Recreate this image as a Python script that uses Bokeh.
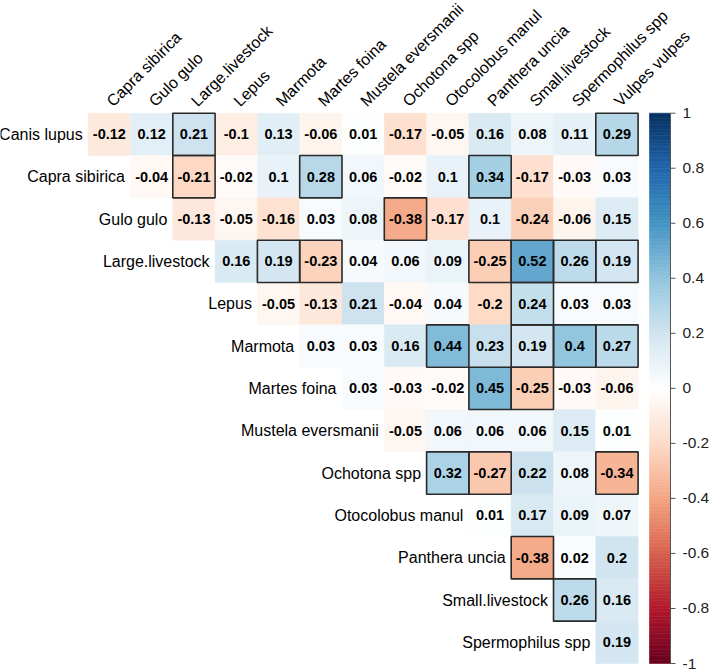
import numpy as np
from bokeh.plotting import figure
from bokeh.models import Range1d, ColumnDataSource
from bokeh.core.properties import value
from bokeh.embed import file_html
from bokeh.resources import INLINE

# ---------------- data ----------------
species = ["Canis lupus", "Capra sibirica", "Gulo gulo", "Large.livestock", "Lepus",
           "Marmota", "Martes foina", "Mustela eversmanii", "Ochotona spp",
           "Otocolobus manul", "Panthera uncia", "Small.livestock",
           "Spermophilus spp", "Vulpes vulpes"]
row_labels = species[:-1]
col_labels = species[1:]

r_canis = [-0.12, 0.12, 0.21, -0.1, 0.13, -0.06, 0.01, -0.17, -0.05, 0.16, 0.08, 0.11, 0.29]
r_capra = [-0.04, -0.21, -0.02, 0.1, 0.28, 0.06, -0.02, 0.1, 0.34, -0.17, -0.03, 0.03]
r_gulo = [-0.13, -0.05, -0.16, 0.03, 0.08, -0.38, -0.17, 0.1, -0.24, -0.06, 0.15]
r_large = [0.16, 0.19, -0.23, 0.04, 0.06, 0.09, -0.25, 0.52, 0.26, 0.19]
r_lepus = [-0.05, -0.13, 0.21, -0.04, 0.04, -0.2, 0.24, 0.03, 0.03]
r_marmota = [0.03, 0.03, 0.16, 0.44, 0.23, 0.19, 0.4, 0.27]
r_martes = [0.03, -0.03, -0.02, 0.45, -0.25, -0.03, -0.06]
r_mustela = [-0.05, 0.06, 0.06, 0.06, 0.15, 0.01]
r_ochotona = [0.32, -0.27, 0.22, 0.08, -0.34]
r_otocolobus = [0.01, 0.17, 0.09, 0.07]
r_panthera = [-0.38, 0.02, 0.2]
r_small = [0.26, 0.16]
r_spermophilus = [0.19]

s_canis = [0, 0, 1, 0, 0, 0, 0, 0, 0, 0, 0, 0, 1]
s_capra = [0, 1, 0, 0, 1, 0, 0, 0, 1, 0, 0, 0]
s_gulo = [0, 0, 0, 0, 0, 1, 0, 0, 0, 0, 0]
s_large = [0, 1, 1, 0, 0, 0, 1, 1, 1, 1]
s_lepus = [0, 0, 0, 0, 0, 0, 1, 0, 0]
s_marmota = [0, 0, 0, 1, 0, 1, 1, 1]
s_martes = [0, 0, 0, 1, 1, 0, 0]
s_mustela = [0, 0, 0, 0, 0, 0]
s_ochotona = [1, 1, 0, 0, 1]
s_otocolobus = [0, 0, 0, 0]
s_panthera = [1, 0, 0]
s_small = [1, 0]
s_spermophilus = [0]

r_rows = [r_canis, r_capra, r_gulo, r_large, r_lepus, r_marmota, r_martes, r_mustela,
          r_ochotona, r_otocolobus, r_panthera, r_small, r_spermophilus]
s_rows = [s_canis, s_capra, s_gulo, s_large, s_lepus, s_marmota, s_martes, s_mustela,
          s_ochotona, s_otocolobus, s_panthera, s_small, s_spermophilus]

cb_ticks = [1, 0.8, 0.6, 0.4, 0.2, 0, -0.2, -0.4, -0.6, -0.8, -1]

# corrplot RdBu palette
pal = ["#67001F", "#B2182B", "#D6604D", "#F4A582", "#FDDBC7", "#FFFFFF",
       "#D1E5F0", "#92C5DE", "#4393C3", "#2166AC", "#053061"]
pal_rgb = np.array([[int(h[i:i + 2], 16) for i in (1, 3, 5)] for h in pal], float)
pal_pos = np.linspace(-1, 1, len(pal))


def col(v):
    rgb = [np.interp(v, pal_pos, pal_rgb[:, k]) for k in range(3)]
    return "#%02x%02x%02x" % tuple(int(round(c)) for c in rgb)


def fmt(v):
    s = f"{v:.2f}".rstrip("0").rstrip(".")
    return "0" if s in ("-0", "") else s


# ---------------- geometry ----------------
W, H = 709, 670
left_px, top_px, bottom_px = 87.7, 112.7, 663.0
cw = 42.3
n = len(row_labels)
ch = (bottom_px - top_px) / n
x0 = -left_px / cw
x1 = (W - left_px) / cw
y0 = -(H - bottom_px) / ch
y1 = n + top_px / ch

p = figure(width=W, height=H, x_range=Range1d(x0, x1), y_range=Range1d(y0, y1),
           output_backend="svg", toolbar_location=None, min_border=0,
           x_axis_location=None, y_axis_location=None)
p.grid.visible = False
p.outline_line_color = None
p.background_fill_color = "white"
p.border_fill_color = "white"

xs, ys, cols, txt, sx, sy = [], [], [], [], [], []
for i, (rr, ss) in enumerate(zip(r_rows, s_rows)):
    for k, (v, s) in enumerate(zip(rr, ss)):
        j = i + k
        xs.append(j + 0.5)
        ys.append(n - i - 0.5)
        cols.append(col(v))
        txt.append(fmt(v))
        if s:
            sx.append(j + 0.5)
            sy.append(n - i - 0.5)

src = ColumnDataSource(dict(x=xs, y=ys, c=cols, t=txt))
p.rect(x="x", y="y", width=1, height=1, fill_color="c", line_color="c", line_width=0.5, source=src)
p.rect(x=sx, y=sy, width=1, height=1, fill_alpha=0, line_color="#2a2a2a", line_width=1.6)
p.text(x="x", y="y", text="t", source=src, text_align="center", text_baseline="middle",
       text_font=value("Liberation Sans"), text_font_style="bold", text_font_size="14.5px",
       text_color="black")

# row labels (diagonal)
rl_x = [i - 5.5 / cw for i in range(n)]
rl_y = [n - i - 0.5 for i in range(n)]
p.text(x=rl_x, y=rl_y, text=row_labels, text_align="right", text_baseline="middle",
       text_font=value("Liberation Sans"), text_font_size="16px", text_color="black")

# column labels (rotated, top)
cl_x = [j + 0.5 for j in range(n)]
cl_y = [n + 9.5 / ch for j in range(n)]
p.text(x=cl_x, y=cl_y, text=col_labels, angle=np.pi / 4, text_align="left",
       text_baseline="alphabetic", text_font=value("Liberation Sans"),
       text_font_size="16px", text_color="black")

# colour bar
cb_l = (649 - left_px) / cw
cb_r = (670 - left_px) / cw
nseg = 200
edges = np.linspace(-1, 1, nseg + 1)
mids = (edges[:-1] + edges[1:]) / 2
to_y = lambda v: (np.asarray(v) + 1) / 2 * n
p.quad(left=cb_l, right=cb_r, bottom=to_y(edges[:-1]), top=to_y(edges[1:]),
       fill_color=[col(v) for v in mids], line_color=[col(v) for v in mids], line_width=0.6)
p.segment(x0=cb_r, y0=0, x1=cb_r, y1=n, line_color="#555555", line_width=1)
tick_len = 5 / cw
ty = to_y(cb_ticks)
p.segment(x0=[cb_r] * len(cb_ticks), y0=ty, x1=[cb_r + tick_len] * len(cb_ticks), y1=ty,
          line_color="#555555", line_width=1)
p.text(x=[cb_r + 12 / cw] * len(cb_ticks), y=ty, text=[fmt(v) for v in cb_ticks],
       text_align="left", text_baseline="middle", text_font=value("Liberation Sans"),
       text_font_size="15.5px", text_color="#222222")

open("out.html", "w").write(file_html(p, INLINE))
